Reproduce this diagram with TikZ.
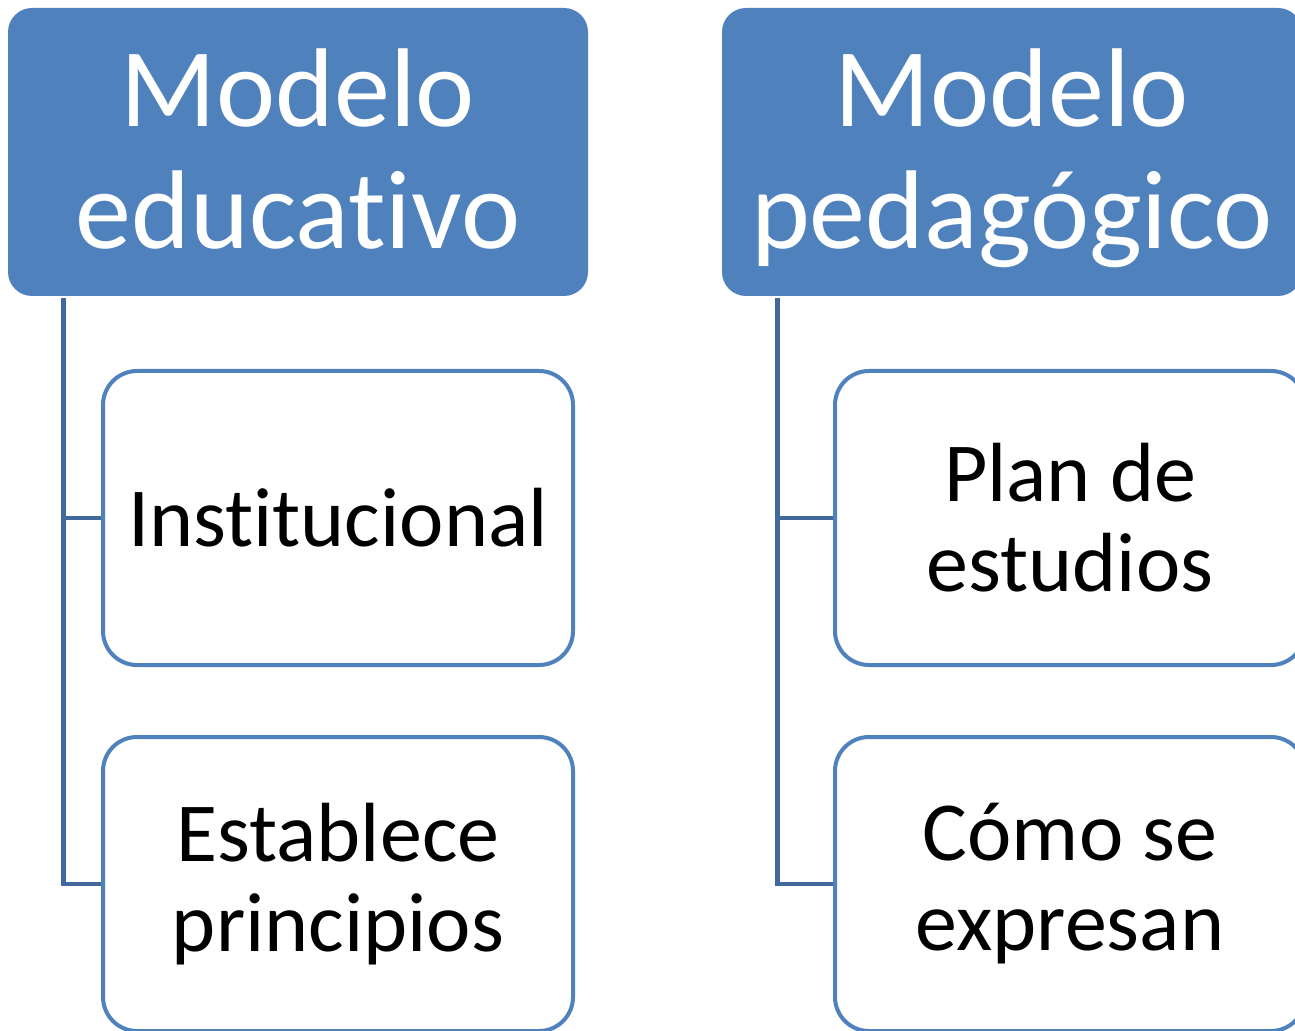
\documentclass[tikz,border=0pt]{standalone}
\usepackage{fontspec}
\setmainfont{Carlito}[Ligatures=NoCommon]
\usepackage{tikz}
\usetikzlibrary{positioning,calc}
\definecolor{hdrblue}{HTML}{4F81BD}
\definecolor{linkblue}{HTML}{41699B}

\begin{document}
\begin{tikzpicture}[x=0.5pt, y=-0.5pt, semithick]
\tikzstyle{header}=[rectangle, rounded corners=12pt, fill=hdrblue, draw=none, text=white,
  minimum width=290pt, minimum height=144pt, align=center, inner sep=0pt,
  font=\fontsize{56}{61}\selectfont]
\tikzstyle{item}=[rectangle, rounded corners=17pt, draw=hdrblue, line width=2pt, fill=white,
  text=black, minimum width=235pt, minimum height=147pt, align=center, inner sep=0pt,
  font=\fontsize{42}{45}\selectfont]
\tikzstyle{link}=[draw=linkblue, line width=2.4pt]
\useasboundingbox (0,0) rectangle (1295,1031);
\clip (0,0) rectangle (1295,1031);

\node[header] (edu)  at (298,152)  {};
\node[header] (ped)  at (1012,152) {};
\node[text=white, align=center, inner sep=0pt, font=\fontsize{56}{61}\selectfont]
  (edutxt) at (298,158) {Modelo\\educativo\vphantom{p}};
\node[text=white, align=center, inner sep=0pt, font=\fontsize{56}{61}\selectfont]
  (pedtxt) at (1012,158) {Modelo\\pedagógico};
\node[item]   (inst) at (338,518)  {Institucional};
\node[item]   (prin) at (338,884)  {Establece\\principios};
\node[item]   (plan) at (1070,518) {Plan de\\estudios};
\node[item]   (expr) at (1070,884) {Cómo se\\expresan};

% connectors
\path (edu.south west) ++(56,1) coordinate (e0);
\path (ped.south west) ++(56,1) coordinate (p0);
\draw[link] (e0) |- (prin.west);
\draw[link] (e0 |- inst.west) -- (inst.west);
\draw[link] (p0) |- (expr.west);
\draw[link] (p0 |- plan.west) -- (plan.west);

\end{tikzpicture}
\end{document}
